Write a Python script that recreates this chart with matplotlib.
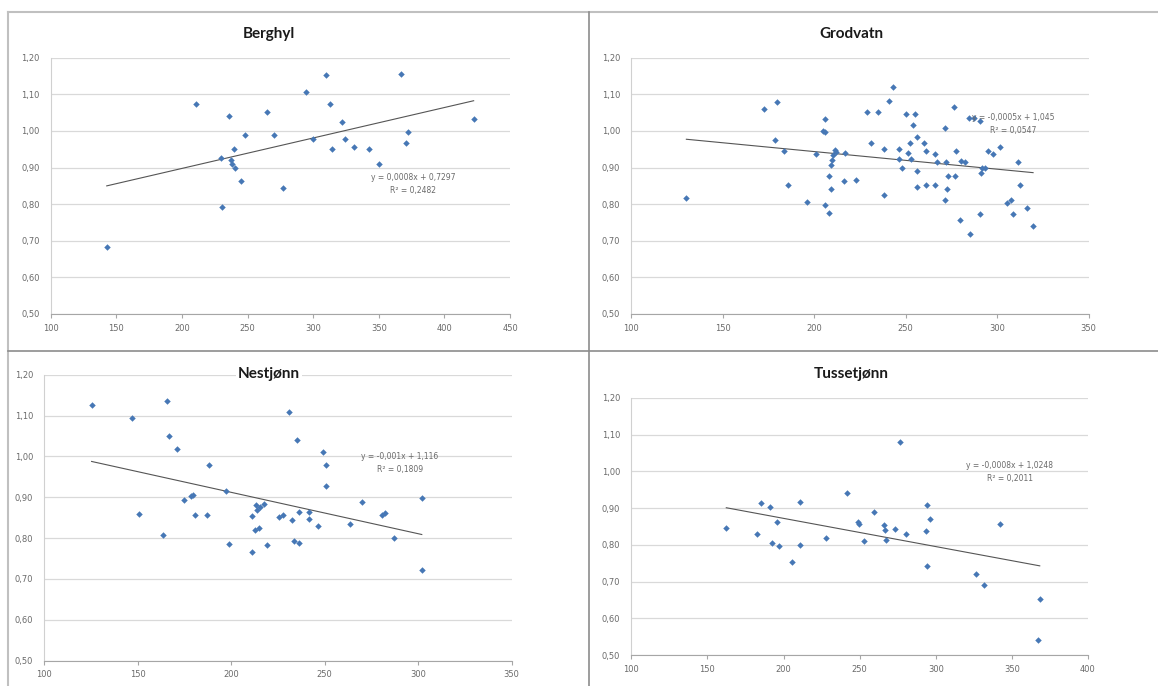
import numpy as np
import matplotlib
matplotlib.use("Agg")
import matplotlib.pyplot as plt
from matplotlib.lines import Line2D

# ---------------- data ----------------
titles = ["Berghyl", "Grodvatn", "Nestjønn", "Tussetjønn"]

berghyl_x = [142.7, 211, 229.8, 230.8, 235.9, 237.4, 239.9, 238.4, 240.2, 244.7, 247.8, 264.5,
             269.9, 277, 294.8, 299.9, 310, 312.8, 314.6, 321.7, 324, 330.8, 342.5, 350.1,
             367.1, 372, 370.7, 422.3]
berghyl_y = [0.682, 1.073, 0.927, 0.793, 1.040, 0.921, 0.952, 0.909, 0.898, 0.862, 0.988, 1.051,
             0.989, 0.845, 1.107, 0.979, 1.152, 1.073, 0.952, 1.025, 0.979, 0.955, 0.952, 0.909,
             1.156, 0.997, 0.966, 1.032]

grodvatn_x = [130.1, 172.5, 179.6, 178.5, 183.6, 185.5, 195.8, 200.8, 205.7, 204.8, 205.9, 205.9,
              207.9, 207.9, 209, 209.3, 209.7, 210.2, 211.1, 211.7, 216.6, 216.1, 222.6, 228.8,
              230.8, 234.8, 237.9, 237.9, 241, 243, 246.3, 246.3, 247.9, 250.3, 251.2, 252.5,
              253, 254.9, 254, 256.3, 256.3, 256.3, 259.8, 261.3, 261.3, 266.2, 266.2, 267.1,
              271.3, 271.3, 272.2, 272.6, 273.1, 276.2, 276.7, 277.3, 279.5, 280, 282.6, 285.3,
              284.4, 287.3, 290.4, 290.4, 291.3, 291.7, 293.1, 294.9, 297.7, 301.3, 305.5, 307.7,
              308.7, 311.4, 312.7, 316.5, 319.6]
grodvatn_y = [0.816, 1.059, 1.080, 0.974, 0.945, 0.851, 0.807, 0.936, 1.032, 1.000, 0.996, 0.799,
              0.776, 0.878, 0.842, 0.907, 0.921, 0.935, 0.948, 0.943, 0.939, 0.864, 0.866, 1.053,
              0.968, 1.053, 0.952, 0.825, 1.083, 1.119, 0.950, 0.923, 0.900, 1.047, 0.939, 0.968,
              0.923, 1.047, 1.016, 0.983, 0.891, 0.848, 0.968, 0.945, 0.851, 0.851, 0.937, 0.916,
              1.009, 0.812, 0.916, 0.842, 0.878, 1.066, 0.878, 0.944, 0.757, 0.918, 0.914, 0.718,
              1.035, 1.035, 1.028, 0.773, 0.885, 0.900, 0.898, 0.945, 0.937, 0.955, 0.803, 0.812,
              0.773, 0.915, 0.853, 0.789, 0.741]

nestjonn_x = [125.3, 146.7, 150.8, 163.7, 165.8, 166.7, 170.8, 174.7, 178.5, 179.7, 180.8, 186.8,
              188.1, 197.2, 199, 210.9, 211.3, 213.1, 213.6, 212.9, 215, 215.4, 217.7, 219,
              225.7, 227.5, 231.1, 232.3, 233.6, 235.3, 236.4, 236.4, 241.6, 241.6, 246.6, 249.3,
              250.5, 250.5, 263.5, 269.8, 280.5, 282, 287, 301.9, 301.9]
nestjonn_y = [1.127, 1.093, 0.860, 0.807, 1.136, 1.050, 1.018, 0.893, 0.903, 0.906, 0.857, 0.856,
              0.980, 0.916, 0.786, 0.853, 0.766, 0.880, 0.870, 0.819, 0.826, 0.875, 0.884, 0.782,
              0.852, 0.857, 1.109, 0.844, 0.794, 1.039, 0.787, 0.863, 0.864, 0.848, 0.830, 1.010,
              0.978, 0.927, 0.834, 0.888, 0.857, 0.861, 0.800, 0.897, 0.721]

tusset_x = [162.4, 182.6, 185.4, 191.3, 195.7, 192.6, 196.8, 205.8, 210.6, 210.6, 227.7, 241.9,
            248.9, 249.6, 252.9, 259.2, 266, 266.9, 267.5, 273.5, 276.3, 280.5, 293.4, 294.5,
            294.5, 296.5, 326.7, 331.7, 342, 368.3, 367.4]
tusset_y = [0.846, 0.829, 0.914, 0.903, 0.862, 0.805, 0.796, 0.754, 0.917, 0.799, 0.820, 0.941,
            0.861, 0.857, 0.811, 0.889, 0.853, 0.841, 0.812, 0.844, 1.080, 0.829, 0.838, 0.908,
            0.742, 0.871, 0.721, 0.692, 0.856, 0.652, 0.542]

equations = ["y = 0,0008x + 0,7297\nR² = 0,2482",
             "y = -0,0005x + 1,045\nR² = 0,0547",
             "y = -0,001x + 1,116\nR² = 0,1809",
             "y = -0,0008x + 1,0248\nR² = 0,2011"]

y_ticks = [0.5, 0.6, 0.7, 0.8, 0.9, 1.0, 1.1, 1.2]
y_tick_labels = ["0,50", "0,60", "0,70", "0,80", "0,90", "1,00", "1,10", "1,20"]
x_ticks_berghyl = [100, 150, 200, 250, 300, 350, 400, 450]
x_ticks_grodvatn = [100, 150, 200, 250, 300, 350]
x_ticks_nestjonn = [100, 150, 200, 250, 300, 350]
x_ticks_tusset = [100, 150, 200, 250, 300, 350, 400]

# ---------------- layout ----------------
W, H = 1158, 686
fig = plt.figure(figsize=(W / 100, H / 100), dpi=100)
fig.patch.set_facecolor("white")

def fx(px):
    return px / W

def fy(py):
    return 1 - py / H

# axes rectangles in pixel coordinates (left, top, right, bottom)
rects = [(50.7, 57.7, 510.0, 314.0),
         (631.3, 57.7, 1088.7, 314.0),
         (44.3, 374.7, 511.7, 660.7),
         (631.3, 398.0, 1088.0, 655.0)]
title_pos = [(269, 34), (851, 34), (269, 374), (851, 374)]
eq_pos = [(413, 184), (1013, 124), (400, 463), (1010, 472)]

series = [(berghyl_x, berghyl_y, x_ticks_berghyl),
          (grodvatn_x, grodvatn_y, x_ticks_grodvatn),
          (nestjonn_x, nestjonn_y, x_ticks_nestjonn),
          (tusset_x, tusset_y, x_ticks_tusset)]

label_color = "#6a6a6a"
grid_color = "#d9d9d9"
point_color = "#4677b5"

for i, ((xs, ys, xt), (l, t, r, b)) in enumerate(zip(series, rects)):
    ax = fig.add_axes([fx(l), fy(b), fx(r) - fx(l), fy(t) - fy(b)])
    ax.set_facecolor("white")
    ax.set_xlim(xt[0], xt[-1])
    ax.set_ylim(0.5, 1.2)
    ax.set_yticks(y_ticks)
    ax.set_yticklabels(y_tick_labels)
    ax.set_xticks(xt)
    ax.set_xticklabels([str(v) for v in xt])
    ax.grid(axis="y", color=grid_color, linewidth=0.9)
    ax.set_axisbelow(True)
    for s in ["top", "right"]:
        ax.spines[s].set_visible(False)
    ax.spines["left"].set_color("#d0d0d0")
    ax.spines["bottom"].set_color("#a6a6a6")
    ax.tick_params(axis="y", length=0, labelsize=6, labelcolor=label_color, pad=8)
    ax.tick_params(axis="x", length=3, color="#a6a6a6", labelsize=6,
                   labelcolor=label_color, pad=4)
    xa = np.array(xs)
    ya = np.array(ys)
    ax.plot(xa, ya, linestyle="none", marker="D", markersize=3.3,
            color=point_color, markeredgewidth=0, zorder=3)
    k, c = np.polyfit(xa, ya, 1)
    xl = np.array([xa.min(), xa.max()])
    ax.plot(xl, k * xl + c, color="#555555", linewidth=0.8, zorder=2)

    tx, ty = title_pos[i]
    fig.text(fx(tx), fy(ty), titles[i], ha="center", va="center",
             fontsize=11, fontweight="bold", family="Lato", color="#1a1a1a",
             bbox=dict(facecolor="white", edgecolor="none", pad=1.5), zorder=10)
    ex, ey = eq_pos[i]
    fig.text(fx(ex), fy(ey), equations[i], ha="center", va="center",
             fontsize=5.5, color=label_color, linespacing=1.5, zorder=10)

# frame and dividers
border = "#c0c0c0"
divider = "#8c8c8c"
fig.add_artist(Line2D([fx(8), fx(W)], [fy(12), fy(12)], color=border, linewidth=1.5))
fig.add_artist(Line2D([fx(8), fx(8)], [fy(12), fy(H)], color=border, linewidth=1.5))
fig.add_artist(Line2D([fx(589), fx(589)], [fy(12), fy(H)], color=divider, linewidth=1.2))
fig.add_artist(Line2D([fx(8), fx(W)], [fy(351), fy(351)], color=divider, linewidth=1.2))

fig.savefig("out.png", dpi=100, facecolor="white")
